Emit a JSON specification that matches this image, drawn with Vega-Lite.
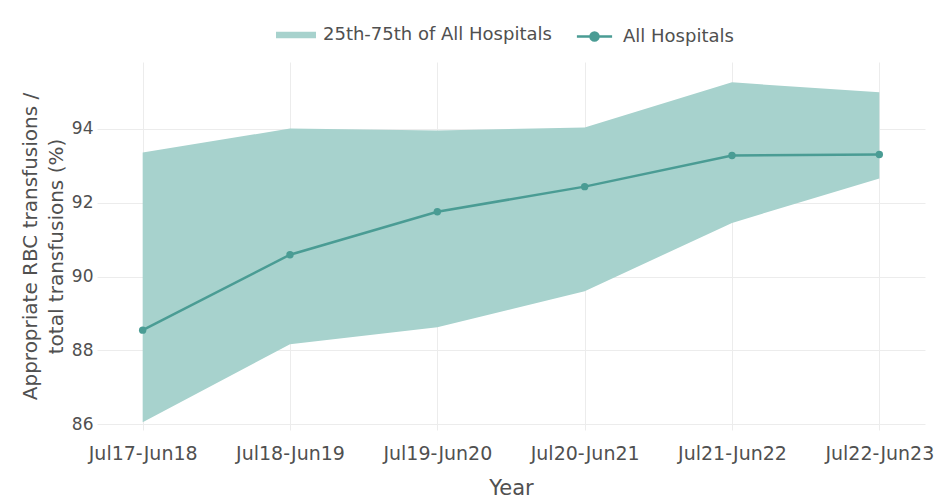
{
  "$schema": "https://vega.github.io/schema/vega-lite/v6.json",
  "width": 828,
  "height": 368,
  "autosize": {"type": "none"},
  "padding": {"left": 97, "top": 62, "right": 18, "bottom": 72},
  "background": "white",
  "config": {
    "font": "DejaVu Sans",
    "view": {"stroke": null},
    "axis": {"labelColor": "#505050", "titleColor": "#505050", "gridColor": "#ececec", "domain": false, "ticks": false},
    "legend": {"labelColor": "#505050", "labelFontSize": 18, "labelLimit": 0, "labelOffset": 7, "title": null}
  },
  "data": {
    "values": [
      {"year": "Jul17-Jun18", "value": 88.55, "lo": 86.06, "hi": 93.35},
      {"year": "Jul18-Jun19", "value": 90.59, "lo": 88.17, "hi": 94.0},
      {"year": "Jul19-Jun20", "value": 91.75, "lo": 88.63, "hi": 93.95},
      {"year": "Jul20-Jun21", "value": 92.43, "lo": 89.6, "hi": 94.03},
      {"year": "Jul21-Jun22", "value": 93.27, "lo": 91.45, "hi": 95.25},
      {"year": "Jul22-Jun23", "value": 93.3, "lo": 92.65, "hi": 94.98}
    ]
  },
  "encoding": {
    "x": {
      "field": "year", "type": "ordinal",
      "scale": {"type": "point", "padding": 0.31},
      "axis": {"title": "Year", "labelAngle": 0, "labelFontSize": 19, "labelPadding": 14, "titleFontSize": 21, "titleFontWeight": "normal", "titlePadding": 14, "grid": true}
    }
  },
  "layer": [
    {
      "mark": {"type": "area", "opacity": 1},
      "encoding": {
        "y": {"field": "lo", "type": "quantitative",
          "scale": {"domain": [85.85, 95.8], "nice": false, "zero": false},
          "axis": {"title": ["Appropriate RBC transfusions /", "total transfusions (%)"], "values": [86, 88, 90, 92, 94], "labelFontSize": 17, "labelPadding": 4, "titleFontSize": 20, "titleFontWeight": "normal", "titlePadding": 5, "titleLineHeight": 26, "grid": true}},
        "y2": {"field": "hi"},
        "fill": {"datum": "25th-75th of All Hospitals", "type": "nominal",
          "scale": {"domain": ["25th-75th of All Hospitals"], "range": ["#a7d2cd"]},
          "legend": {
            "orient": "none", "direction": "horizontal",
            "legendX": 179, "legendY": -47,
            "symbolSize": 1600, "symbolType": "M-1,-0.16H1V0.16H-1Z",
            "symbolStrokeWidth": 0, "symbolOpacity": 1
          }
        }
      }
    },
    {
      "mark": {"type": "line", "strokeWidth": 2.5},
      "encoding": {
        "y": {"field": "value", "type": "quantitative"},
        "stroke": {"datum": "All Hospitals", "type": "nominal",
          "scale": {"domain": ["All Hospitals"], "range": ["#4a9c94"]},
          "legend": {
            "orient": "none", "direction": "horizontal",
            "legendX": 476, "legendY": -47,
            "symbolSize": 1600, "symbolType": "M-0.88,0H0.88M0.2,0A0.2,0.2 0 1 1 -0.2,0A0.2,0.2 0 1 1 0.2,0",
            "symbolStrokeWidth": 2.5, "symbolFillColor": "#4a9c94", "symbolOpacity": 1
          }
        }
      }
    },
    {
      "mark": {"type": "point", "filled": true, "size": 55, "opacity": 1, "color": "#4a9c94"},
      "encoding": {
        "y": {"field": "value", "type": "quantitative"}
      }
    }
  ]
}
